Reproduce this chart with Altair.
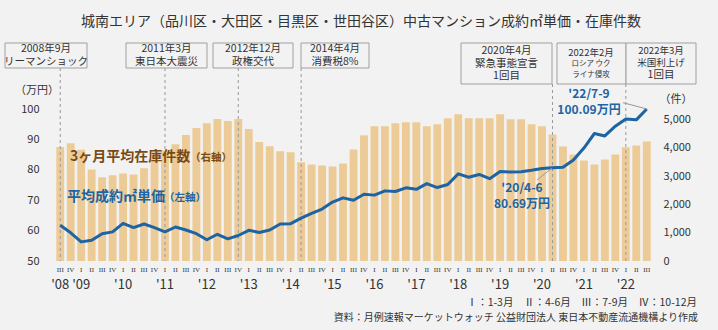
import altair as alt
import pandas as pd

# ---------------- data ----------------
quarters = [f"{y}-{q}" for y in range(2008, 2023) for q in range(1, 5)][2:-1]  # 2008 Q3 .. 2022 Q3
roman = ["I", "II", "III", "IV"]
quarter_labels = [roman[int(k.split("-")[1]) - 1] for k in quarters]

inventory = [4020, 4160, 3930, 3230, 2955, 3026, 3090, 3050, 3274, 3600,
             3900, 4120, 4443, 4692, 4858, 5011, 4940, 5011, 4657, 4196,
             4054, 3877, 3841, 3487, 3404, 3369, 3333, 3440, 3936, 4433,
             4752, 4752, 4858, 4894, 4894, 4752, 4823, 5035, 5177, 5035,
             5035, 5035, 5177, 5000, 5000, 4823, 4752, 4468, 4043, 3759,
             3546, 3404, 3582, 3759, 4018, 4078, 4220]

price = [61.8, 59.3, 56.3, 56.8, 59.0, 59.6, 62.4, 61.0, 62.2, 61.0,
         59.6, 61.2, 60.2, 59.0, 57.0, 58.8, 57.3, 58.4, 60.1, 59.4,
         60.2, 62.2, 62.3, 64.1, 65.7, 67.1, 69.4, 70.8, 70.0, 72.0,
         71.7, 73.1, 72.9, 74.1, 73.6, 75.5, 74.2, 75.2, 78.7, 77.6,
         78.5, 77.1, 79.5, 79.3, 79.4, 79.9, 80.5, 80.69, 80.9, 83.3,
         87.2, 92.0, 91.2, 94.4, 96.8, 96.5, 100.09]

year_keys = ["2008-3"] + [f"{y}-1" for y in range(2009, 2023)]
year_text = ["'08", "'09", "'10", "'11", "'12", "'13", "'14", "'15",
             "'16", "'17", "'18", "'19", "'20", "'21", "'22"]

event_short = ["2008-3", "2011-1", "2012-4", "2014-2"]
event_tall = ["2020-2", "2022-1"]

title_text = "城南エリア（品川区・大田区・目黒区・世田谷区）中古マンション成約㎡単価・在庫件数"

# ---------------- style ----------------
W, H = 597, 170
BG = "#F2F2F2"
BAR = "#EDCB96"
LINE = "#1C64A3"
BROWN = "#7A4A12"
TXT = "#333333"
GRID = "#9A9A9A"
JP = "Noto Sans CJK JP"

df = pd.DataFrame({"q": quarters, "inv": inventory, "price": price, "ql": quarter_labels})
dy = pd.DataFrame({"q": year_keys, "t": year_text})
de_s = pd.DataFrame({"q": event_short})
de_t = pd.DataFrame({"q": event_tall})
one = pd.DataFrame({"a": [0]})

xs = alt.Scale(domain=quarters, paddingInner=0.25, paddingOuter=0.125)


def X(axis=None):
    return alt.X("q:N", scale=xs, sort=quarters, axis=axis)


bars = alt.Chart(df).mark_bar(color=BAR).encode(
    x=X(alt.Axis(labels=False, ticks=False, title=None, domainColor="#8C8C8C", domainWidth=1)),
    y=alt.Y("inv:Q", scale=alt.Scale(domain=[0, 6000], nice=False),
            axis=alt.Axis(orient="right", values=[0, 1000, 2000, 3000, 4000, 5000], format=",d",
                          domain=False, ticks=False, grid=False, title=None,
                          labelFont=JP, labelFontSize=11, labelColor=TXT, labelPadding=11)),
)

rules_s = alt.Chart(de_s).mark_rule(color=GRID, strokeDash=[3, 3], strokeWidth=1).encode(
    x=X(), y=alt.value(-23), y2=alt.value(H))
rules_t = alt.Chart(de_t).mark_rule(color=GRID, strokeDash=[3, 3], strokeWidth=1).encode(
    x=X(), y=alt.value(-7), y2=alt.value(H))

line = alt.Chart(df).mark_line(color=LINE, strokeWidth=3, strokeJoin="round").encode(
    x=X(),
    y=alt.Y("price:Q", scale=alt.Scale(domain=[50, 106], nice=False),
            axis=alt.Axis(orient="left", values=[50, 60, 70, 80, 90, 100],
                          domain=False, ticks=False, grid=False, title=None,
                          labelFont=JP, labelFontSize=11, labelColor=TXT, labelPadding=16)),
)

qlab = alt.Chart(df).mark_text(font="Liberation Serif", fontSize=7, color=TXT, baseline="middle").encode(
    x=X(), y=alt.value(H + 9), text="ql:N")
ylab = alt.Chart(dy).mark_text(font=JP, fontSize=13, color=TXT, baseline="middle").encode(
    x=X(), y=alt.value(H + 24), text="t:N")


def txt(s, x, y, size=11, color=TXT, align="center", weight="normal", font=JP):
    return alt.Chart(one).mark_text(font=font, fontSize=size, color=color, align=align,
                                    baseline="middle", fontWeight=weight).encode(
        x=alt.value(x), y=alt.value(y), text=alt.value(s))


def box(x1, x2, y1, y2):
    return alt.Chart(one).mark_rect(fill=BG, stroke="#A0A0A0", strokeWidth=1).encode(
        x=alt.value(x1), x2=alt.value(x2), y=alt.value(y1), y2=alt.value(y2))


def seg(x1, y1, x2, y2):
    return alt.Chart(one).mark_rule(color="#999999", strokeWidth=1).encode(
        x=alt.value(x1), y=alt.value(y1), x2=alt.value(x2), y2=alt.value(y2))


O = 55  # plot left in page
T = 91  # plot top in page

layers = [bars, rules_s, rules_t, line, qlab, ylab]

# event boxes (page coords converted to plot coords)
boxes = [
    (5, 87, 43, 68, ["2008年9月", "リーマンショック"]),
    (126, 207, 43, 68, ["2011年3月", "東日本大震災"]),
    (213, 293, 43, 68, ["2012年12月", "政権交代"]),
    (301, 369, 43, 68, ["2014年4月", "消費税8%"]),
    (461, 552, 43, 84, ["2020年4月", "緊急事態宣言", "1回目"]),
]
for x1, x2, y1, y2, lines in boxes:
    layers.append(box(x1 - O, x2 - O, y1 - T, y2 - T))
    cx = (x1 + x2) / 2 - O
    n = len(lines)
    cy = (y1 + y2) / 2 - T
    for i, s in enumerate(lines):
        layers.append(txt(s, cx, cy + (i - (n - 1) / 2) * 12.8, size=10.5))

# 2022 boxes
layers.append(box(557 - O, 626 - O, 43 - T, 84 - T))
layers.append(box(626 - O, 696 - O, 43 - T, 84 - T))
layers.append(txt("2022年2月", 591 - O, 52.5 - T, size=9.5))
layers.append(txt("ロシア ウク", 591 - O, 64 - T, size=7.5))
layers.append(txt("ライナ侵攻", 591 - O, 74.5 - T, size=7.5))
layers.append(txt("2022年3月", 661 - O, 51 - T, size=9.5))
layers.append(txt("米国利上げ", 661 - O, 62.8 - T, size=9.5))
layers.append(txt("1回目", 661 - O, 75 - T, size=10.5))

# title and axis units
layers.append(txt(title_text, 361 - O, 22 - T, size=14))
layers.append(txt("（万円）", 37 - O, 91 - T, size=11))
layers.append(txt("（件）", 676 - O, 100 - T, size=11))

# series labels
layers.append(txt("3ヶ月平均在庫件数", 70 - O, 157 - T, size=14, color=BROWN, align="left", weight="bold"))
layers.append(txt("（右軸）", 190 - O, 158 - T, size=10.5, color=BROWN, align="left", weight="bold"))
layers.append(txt("平均成約㎡単価", 67 - O, 197 - T, size=14, color=LINE, align="left", weight="bold"))
layers.append(txt("（左軸）", 164 - O, 198 - T, size=10.5, color=LINE, align="left", weight="bold"))

# callouts
layers.append(seg(537 - O, 180 - T, 552 - O, 168 - T))
layers.append(txt("'20/4-6", 522 - O, 188 - T, size=12, color=LINE, weight="bold"))
layers.append(txt("80.69万円", 522 - O, 204 - T, size=12, color=LINE, weight="bold"))
layers.append(seg(623 - O, 102.7 - T, 647 - O, 109 - T))
layers.append(txt("'22/7-9", 589 - O, 93.5 - T, size=12, color=LINE, weight="bold"))
layers.append(txt("100.09万円", 589 - O, 109.5 - T, size=12, color=LINE, weight="bold"))

# footnotes
layers.append(txt("Ⅰ：1-3月　Ⅱ：4-6月　Ⅲ：7-9月　Ⅳ：10-12月", 697 - O, 303 - T, size=10.5, align="right"))
layers.append(txt("資料：月例速報マーケットウォッチ 公益財団法人 東日本不動産流通機構より作成", 698 - O, 318 - T, size=10, align="right"))

chart = alt.layer(*layers).resolve_scale(y="independent").properties(
    width=W, height=H,
    autosize=alt.AutoSizeParams(type="none"),
    padding={"left": O, "top": T, "right": 718 - O - W, "bottom": 330 - T - H},
).configure(background=BG).configure_view(stroke=None)

chart.save("out.html", embed_options={"renderer": "svg", "actions": False})
